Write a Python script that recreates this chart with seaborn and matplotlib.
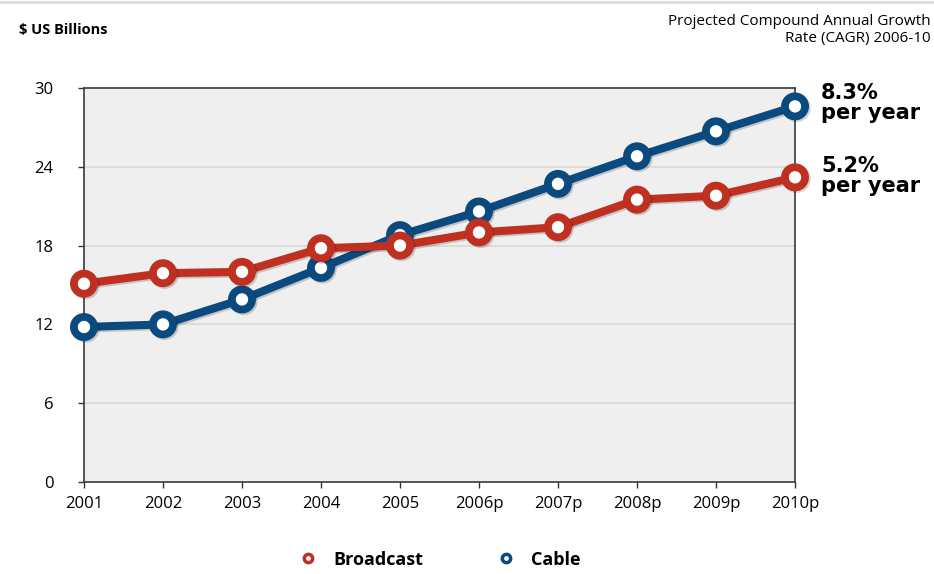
import matplotlib.pyplot as plt
import matplotlib.patheffects as pe
import pandas as pd
import seaborn as sns
from matplotlib.lines import Line2D

YEARS = ['2001', '2002', '2003', '2004', '2005',
         '2006p', '2007p', '2008p', '2009p', '2010p']
BROADCAST = [15.1, 15.9, 16.0, 17.8, 18.0, 19.0, 19.4, 21.5, 21.8, 23.2]
CABLE = [11.8, 12.0, 13.9, 16.3, 18.8, 20.6, 22.7, 24.8, 26.7, 28.6]
Y_TICKS = [0, 6, 12, 18, 24, 30]

RED = '#bf3020'
BLUE = '#0a4a7e'


def main():
    sns.set_style('white', {'axes.facecolor': '#efefef'})
    plt.rcParams['font.family'] = ['Open Sans', 'DejaVu Sans']
    plt.rcParams['text.color'] = '#000000'

    df = pd.DataFrame({
        'year': YEARS * 2,
        'value': BROADCAST + CABLE,
        'series': ['Broadcast'] * len(YEARS) + ['Cable'] * len(YEARS),
    })

    fig = plt.figure(figsize=(9.34, 5.74), dpi=100)
    ax = fig.add_axes([0.0899, 0.1603, 0.7613, 0.6864])

    for y in Y_TICKS[1:-1]:
        ax.axhline(y, color='#d9d9d9', lw=1.2, zorder=0)

    shadow = [pe.SimpleLineShadow(offset=(1.2, -1.2), alpha=0.18), pe.Normal()]
    sns.lineplot(data=df, x='year', y='value', hue='series',
                 palette={'Broadcast': RED, 'Cable': BLUE},
                 hue_order=['Cable', 'Broadcast'],
                 marker='o', markersize=14.5, markeredgewidth=5.6,
                 markerfacecolor='white', linewidth=5.8,
                 legend=False, ax=ax, clip_on=False, zorder=3,
                 path_effects=shadow)
    for line in ax.lines[-2:]:
        line.set_markeredgecolor(line.get_color())

    ax.set_xlim(0, len(YEARS) - 1)
    ax.set_ylim(0, 30)
    ax.set_yticks(Y_TICKS)
    ax.set_xlabel('')
    ax.set_ylabel('')
    ax.tick_params(axis='both', which='both', direction='out', length=4,
                   width=1, color='#333333', labelsize=12, labelcolor='#000000')
    ax.tick_params(axis='x', pad=6)
    ax.tick_params(axis='y', pad=18)
    ax.tick_params(bottom=True, left=True)
    for sp in ax.spines.values():
        sp.set_color('#3a3a3a')
        sp.set_linewidth(1.2)

    fig.text(0.02, 0.948, '$ US Billions', fontsize=10.5, fontweight='bold',
             ha='left', va='center')
    fig.text(0.996, 0.948, 'Projected Compound Annual Growth\nRate (CAGR) 2006-10',
             fontsize=11, ha='right', va='center', linespacing=1.15)

    fig.text(0.879, 0.82, '8.3%\nper year', fontsize=15, fontweight='heavy',
             family=['DejaVu Sans'], ha='left', va='center', linespacing=1.0)
    fig.text(0.879, 0.693, '5.2%\nper year', fontsize=15, fontweight='heavy',
             family=['DejaVu Sans'], ha='left', va='center', linespacing=1.0)

    handles = [
        Line2D([], [], ls='', marker='o', markersize=6, markeredgewidth=2.5,
               markerfacecolor='white', markeredgecolor=RED),
        Line2D([], [], ls='', marker='o', markersize=6, markeredgewidth=2.5,
               markerfacecolor='white', markeredgecolor=BLUE),
    ]
    fig.legend(handles, ['Broadcast', 'Cable'], loc='center',
               bbox_to_anchor=(0.47, 0.025), ncol=2, frameon=False,
               prop={'weight': 'bold', 'size': 13},
               handletextpad=0.8, columnspacing=4.0, handlelength=1.2)

    fig.add_artist(Line2D([0, 1], [0.997, 0.997], color='#dddddd', lw=2,
                          transform=fig.transFigure))

    fig.savefig('out.png', dpi=100)


if __name__ == '__main__':
    main()
